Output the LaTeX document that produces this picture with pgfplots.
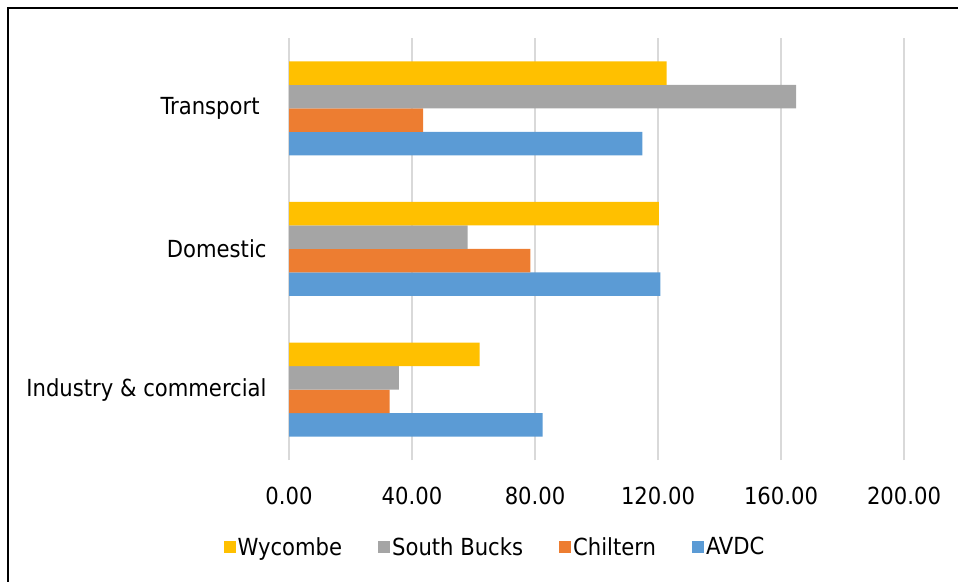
\documentclass[border=0pt]{standalone}
\usepackage{pgfplots}
\pgfplotsset{compat=1.18}
\usepackage{fontspec}
\setmainfont{DejaVu Sans Condensed}

\definecolor{wyc}{HTML}{FFC000}
\definecolor{sbk}{HTML}{A5A5A5}
\definecolor{chi}{HTML}{ED7D31}
\definecolor{avd}{HTML}{5B9BD5}
\definecolor{gridgray}{HTML}{D9D9D9}

\begin{document}
\begin{tikzpicture}[font=\fontsize{23.5}{28}\selectfont]
\path[use as bounding box] (0,0) rectangle (958pt,581pt);
% chart frame
\draw[line width=2.6pt] (8pt,-10pt) -- (8pt,573pt) -- (970pt,573pt);
\begin{axis}[
  at={(289pt,121pt)}, anchor=south west,
  width=615pt, height=422pt, scale only axis,
  xmin=0, xmax=200, ymin=-0.5, ymax=2.5,
  xbar=0pt, bar width=23.5pt,
  ytick={0,1,2},
  yticklabels={Industry \& commercial, Domestic, Transport\rule{7pt}{0pt}},
  xtick={0,40,...,200},
  scaled x ticks=false,
  xticklabel style={/pgf/number format/fixed, /pgf/number format/fixed zerofill,
    /pgf/number format/precision=2, /pgf/number format/assume math mode=true,
    anchor=base, yshift=-44pt, inner sep=0pt},
  yticklabel style={anchor=east, xshift=-18pt, inner sep=0pt},
  axis line style={draw=none},
  major tick style={draw=none},
  xmajorgrids, grid style={gridgray, line width=2pt},
  every axis plot post/.append style={legend image code/.code={\fill[#1] (0pt,-6pt) rectangle (12pt,6pt);}},
  legend columns=4, reverse legend,
  legend style={draw=none, fill=none, at={(0.335,-0.206)}, anchor=center,
    nodes={inner sep=2pt},
    /tikz/every even column/.append style={column sep=34pt}},
]
\addplot[fill=avd, draw=none] coordinates {(82.5,0) (120.8,1) (114.9,2)};
\addlegendentry{AVDC}
\addplot[fill=chi, draw=none] coordinates {(32.7,0) (78.5,1) (43.6,2)};
\addlegendentry{Chiltern}
\addplot[fill=sbk, draw=none] coordinates {(35.7,0) (58.1,1) (164.9,2)};
\addlegendentry{South Bucks}
\addplot[fill=wyc, draw=none] coordinates {(62.0,0) (120.3,1) (122.8,2)};
\addlegendentry{Wycombe}
\end{axis}
\end{tikzpicture}
\end{document}
